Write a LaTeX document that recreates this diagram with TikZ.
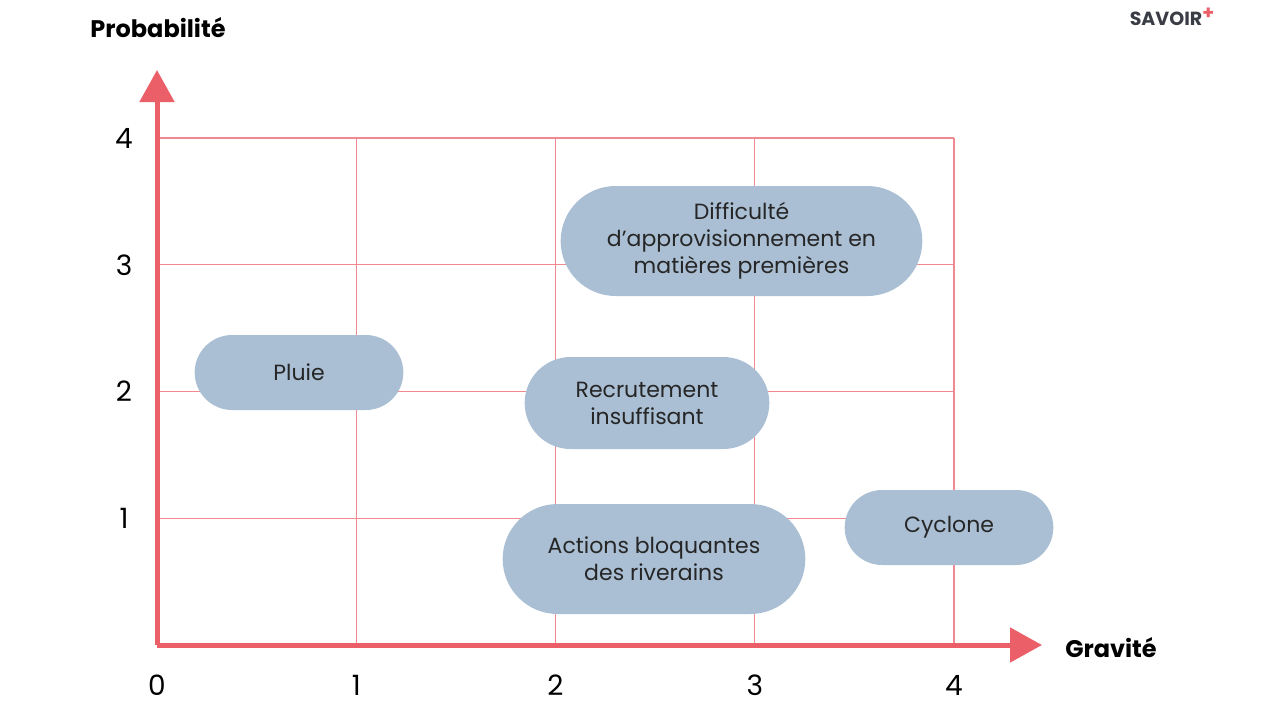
\documentclass[tikz,border=0pt]{standalone}
\usepackage{fontspec}
\setmainfont{Poppins}
\usetikzlibrary{shapes.misc,arrows.meta}
\definecolor{gridred}{HTML}{F08A90}
\definecolor{axisred}{HTML}{EA5F68}
\definecolor{pillblue}{HTML}{AABFD4}
\definecolor{logogray}{HTML}{3A3D45}
\tikzset{
  pill/.style={rounded rectangle, fill=pillblue, align=center, font=\fontsize{11}{13.5}\selectfont, text=black!85},
  tick/.style={font=\fontsize{14}{16}\selectfont},
  axis/.style={axisred, line width=2.5pt, -{Triangle[length=16pt,width=17pt]}}
}
\begin{document}
\begin{tikzpicture}[x=0.5pt,y=-0.5pt]
  \useasboundingbox (0,0) rectangle (1280,720);
  % grid
  \foreach \i in {1,...,4}
    \draw[gridred, line width=0.6pt] (157+199.25*\i,138) -- (157+199.25*\i,645);
  \foreach \j in {1,...,4}
    \draw[gridred, line width=0.6pt] (157,645-126.75*\j) -- (954,645-126.75*\j);
  % axes
  \coordinate (o) at (157,645);
  \coordinate (xend) at (1042,645);
  \coordinate (yend) at (157,70);
  \draw[axis] (o) -- (xend);
  \draw[axis] (o) -- (yend);
  % ticks
  \foreach \i in {0,...,4}
    \node[tick] (x\i) at (157+199.25*\i,685) {\i};
  \foreach \j in {1,...,4}
    \node[tick] (y\j) at (124,645-126.75*\j) {\j};
  \node[font=\bfseries\fontsize{12}{14}\selectfont] (ylab) at (158,28) {Probabilité};
  \node[font=\bfseries\fontsize{12}{14}\selectfont] (xlab) at (1111,648) {Gravité};
  % risks
  \node[pill, minimum width=187.5pt, minimum height=55pt] (diff) at (741.5,241) {Difficulté\\d’approvisionnement en\\matières premières};
  \node[pill, minimum width=111pt, minimum height=37.5pt] (pluie) at (299,372.5) {Pluie};
  \node[pill, minimum width=129pt, minimum height=46pt] (recr) at (647,403) {Recrutement\\insuffisant};
  \node[pill, minimum width=158pt, minimum height=55pt] (act) at (654,559) {Actions bloquantes\\des riverains};
  \node[pill, minimum width=111pt, minimum height=37.5pt] (cycl) at (949,527.5) {Cyclone};
  % logo
  \node[font=\bfseries\fontsize{9.5}{11}\selectfont, text=logogray] (logo) at (1172,17) {SAVOIR\textcolor{axisred}{\raisebox{0.6ex}{+}}};
\end{tikzpicture}
\end{document}
